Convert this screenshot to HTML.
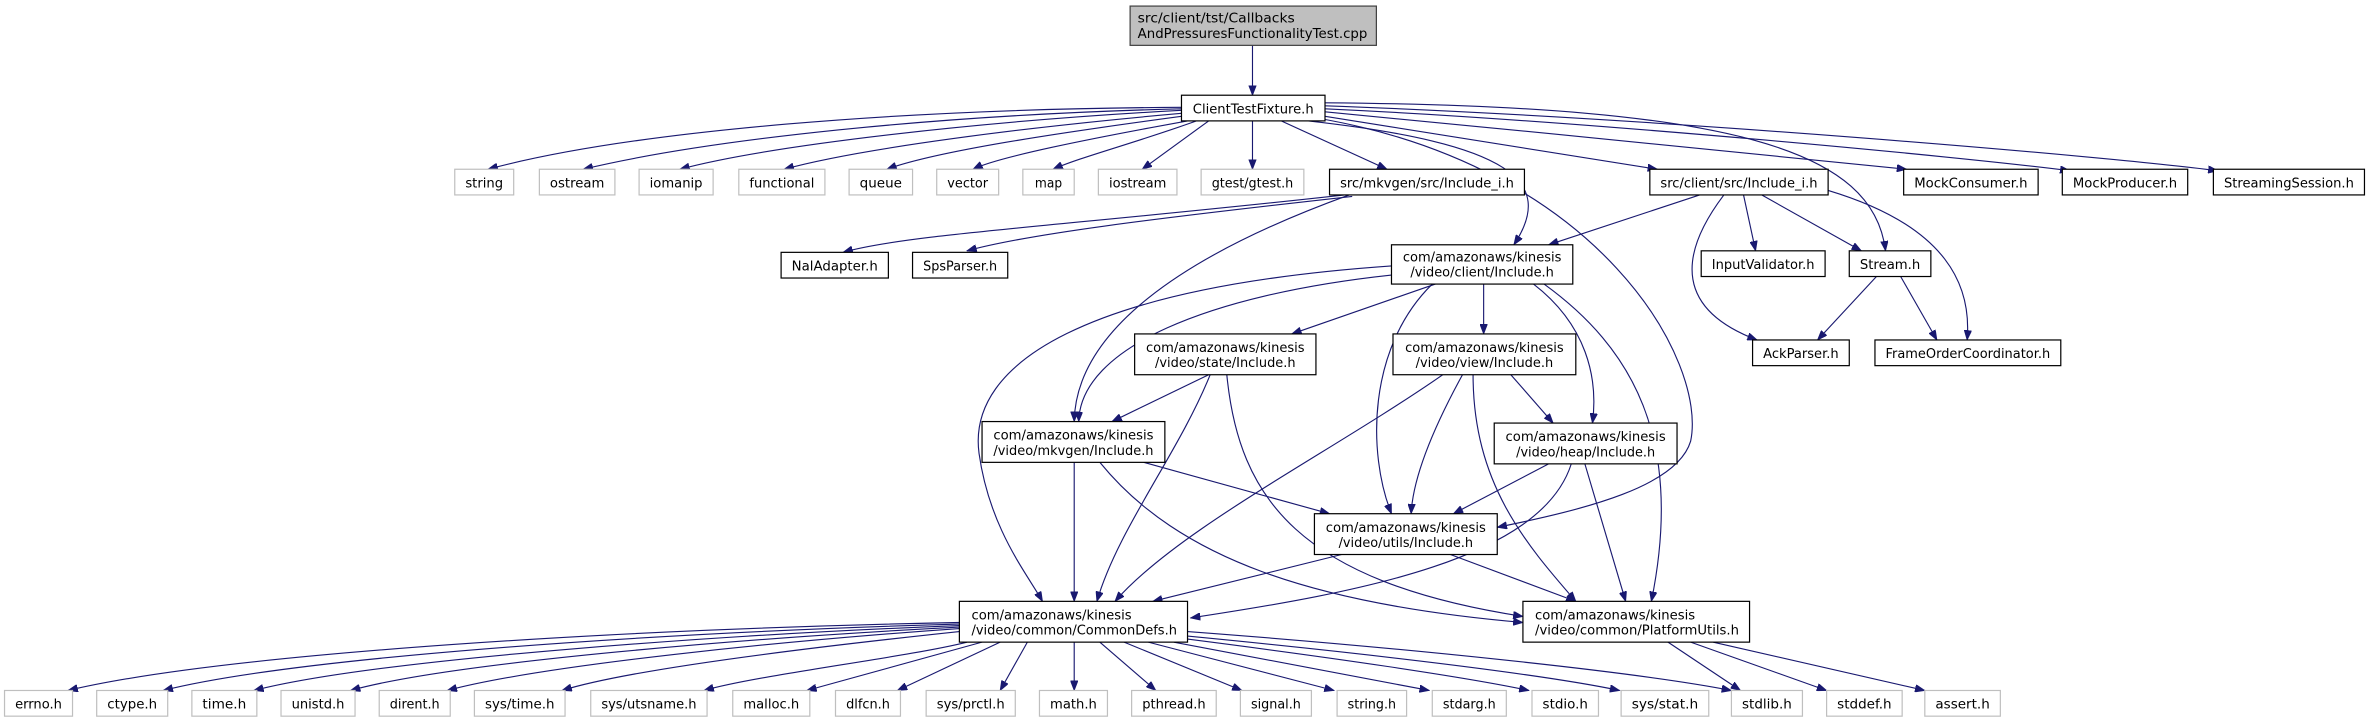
<!DOCTYPE html>
<html><head><meta charset="utf-8"><style>
html,body{margin:0;padding:0;background:#fff;}
svg{display:block;}
text{font-family:"DejaVu Sans","Liberation Sans",sans-serif;font-size:8.6px;fill:#000;}
.b{fill:#fff;stroke:#000;stroke-width:0.8;}
.g{fill:#fff;stroke:#bfbfbf;stroke-width:0.8;}
.e{fill:none;stroke:#191970;stroke-width:0.75;marker-end:url(#a);}
</style></head><body>
<svg width="2369" height="723" viewBox="0 0 1568 478.5" xmlns="http://www.w3.org/2000/svg">
<defs><marker id="a" markerUnits="userSpaceOnUse" markerWidth="7" markerHeight="5" refX="6.5" refY="2.5" orient="auto"><path d="M0,0 L6.5,2.5 L0,5 z" fill="#191970" stroke="#191970" stroke-width="0.5"/></marker></defs>

<g>
<path class="e" d="M829,30 L829,63"/>
<path class="e" d="M782,71 C600,72 420,86 323,112"/>
<path class="e" d="M782,72 C620,76 470,92 386,112"/>
<path class="e" d="M782,73 C650,80 510,96 450,112"/>
<path class="e" d="M782,75 C680,84 570,98 519,112"/>
<path class="e" d="M782,77 C700,88 620,100 587,112"/>
<path class="e" d="M786,80 C720,92 660,104 644,112"/>
<path class="e" d="M792,80 C750,95 715,104 697,112"/>
<path class="e" d="M800,80 L756,112"/>
<path class="e" d="M829,80 L829,112"/>
<path class="e" d="M848,80 L918,112"/>
<path class="e" d="M877,77 L1097,112"/>
<path class="e" d="M877,74 C1000,86 1200,105 1262,112"/>
<path class="e" d="M877,72 C1050,80 1300,104 1370,113"/>
<path class="e" d="M877,70 C1100,78 1400,104 1468,113"/>
<path class="e" d="M877,68 C1150,70 1240,100 1248,166"/>
<path class="e" d="M866,80 C1000,95 1030,120 1002,162"/>
<path class="e" d="M871,78 C1060,110 1130,240 1119,292 C1110,322 1050,337 991,349"/>
<path class="e" d="M890,129 C700,150 600,155 558,167"/>
<path class="e" d="M895,130 C760,145 680,155 640,166"/>
<path class="e" d="M893,129 C780,170 712,220 711,279"/>
<path class="e" d="M1125,129 L1025,162"/>
<path class="e" d="M1154,129 L1162,166"/>
<path class="e" d="M1166,129 L1232,166"/>
<path class="e" d="M1141,129 C1110,170 1110,205 1163,225"/>
<path class="e" d="M1210,126 C1290,150 1305,190 1302,225"/>
<path class="e" d="M1242,183 L1203,225"/>
<path class="e" d="M1258,183 L1282,225"/>
<path class="e" d="M950,188 L855,221"/>
<path class="e" d="M982,188 L982,221"/>
<path class="e" d="M921,182 C800,195 715,230 714,279"/>
<path class="e" d="M921,176 C720,190 640,240 648,300 C655,350 680,380 690,398"/>
<path class="e" d="M948,188 C905,230 905,300 921,340"/>
<path class="e" d="M1015,188 C1050,215 1058,250 1054,280"/>
<path class="e" d="M1022,188 C1080,230 1115,290 1093,398"/>
<path class="e" d="M800,248 L736,279"/>
<path class="e" d="M801,248 C780,300 740,350 726,398"/>
<path class="e" d="M812,248 C820,330 860,385 1008,408"/>
<path class="e" d="M955,248 C880,300 780,350 738,398"/>
<path class="e" d="M968,248 C945,290 935,320 934,340"/>
<path class="e" d="M1000,248 L1028,280"/>
<path class="e" d="M975,248 C975,320 1010,360 1043,398"/>
<path class="e" d="M711,306 L711,398"/>
<path class="e" d="M757,306 L880,340"/>
<path class="e" d="M728,306 C780,370 870,400 1008,412"/>
<path class="e" d="M1025,307 L962,340"/>
<path class="e" d="M1040,307 C1020,370 900,392 788,409"/>
<path class="e" d="M1049,307 L1076,398"/>
<path class="e" d="M888,367 L763,398"/>
<path class="e" d="M960,367 L1043,398"/>
<path class="e" d="M635,412 C420,416 150,432 45,457"/>
<path class="e" d="M635,413 C450,418 200,434 108,457"/>
<path class="e" d="M635,414 C480,420 250,436 168,457"/>
<path class="e" d="M635,415 C500,422 300,438 232,457"/>
<path class="e" d="M635,416 C520,424 360,440 296,457"/>
<path class="e" d="M635,418 C550,427 420,442 372,457"/>
<path class="e" d="M640,425 C600,435 500,447 466,457"/>
<path class="e" d="M650,425 L534,457"/>
<path class="e" d="M662,425 L594,457"/>
<path class="e" d="M680,425 L662,457"/>
<path class="e" d="M711,425 L711,457"/>
<path class="e" d="M728,425 L765,457"/>
<path class="e" d="M744,425 L822,457"/>
<path class="e" d="M760,425 L883,457"/>
<path class="e" d="M777,425 L946,457"/>
<path class="e" d="M786,423 C880,435 970,448 1012,457"/>
<path class="e" d="M786,421 C900,432 1020,446 1072,457"/>
<path class="e" d="M786,418 C920,428 1080,444 1146,457"/>
<path class="e" d="M1104,425 L1152,457"/>
<path class="e" d="M1119,425 L1209,457"/>
<path class="e" d="M1134,425 L1274,457"/>
</g>

<g>
<rect x="748" y="4" width="163" height="26" fill="#bfbfbf" stroke="#404040" stroke-width="0.8"/>
<text x="753" y="15" textLength="104" lengthAdjust="spacingAndGlyphs">src/client/tst/Callbacks</text>
<text x="753" y="25" textLength="152" lengthAdjust="spacingAndGlyphs">AndPressuresFunctionalityTest.cpp</text>

<rect class="b" x="782" y="63" width="95" height="17"/><text x="829.5" y="75" text-anchor="middle" textLength="80" lengthAdjust="spacingAndGlyphs">ClientTestFixture.h</text>

<rect class="g" x="301" y="112" width="39" height="17"/><text x="320.5" y="124" text-anchor="middle" textLength="25" lengthAdjust="spacingAndGlyphs">string</text>
<rect class="g" x="357" y="112" width="50" height="17"/><text x="382" y="124" text-anchor="middle" textLength="36" lengthAdjust="spacingAndGlyphs">ostream</text>
<rect class="g" x="423" y="112" width="49" height="17"/><text x="447.5" y="124" text-anchor="middle" textLength="35" lengthAdjust="spacingAndGlyphs">iomanip</text>
<rect class="g" x="489" y="112" width="57" height="17"/><text x="517.5" y="124" text-anchor="middle" textLength="43" lengthAdjust="spacingAndGlyphs">functional</text>
<rect class="g" x="562" y="112" width="42" height="17"/><text x="583" y="124" text-anchor="middle" textLength="28" lengthAdjust="spacingAndGlyphs">queue</text>
<rect class="g" x="620" y="112" width="41" height="17"/><text x="640.5" y="124" text-anchor="middle" textLength="27" lengthAdjust="spacingAndGlyphs">vector</text>
<rect class="g" x="677" y="112" width="34" height="17"/><text x="694" y="124" text-anchor="middle" textLength="18" lengthAdjust="spacingAndGlyphs">map</text>
<rect class="g" x="727" y="112" width="52" height="17"/><text x="753" y="124" text-anchor="middle" textLength="38" lengthAdjust="spacingAndGlyphs">iostream</text>
<rect class="g" x="795" y="112" width="68" height="17"/><text x="829" y="124" text-anchor="middle" textLength="54" lengthAdjust="spacingAndGlyphs">gtest/gtest.h</text>
<rect class="b" x="880" y="112" width="129" height="17"/><text x="944.5" y="124" text-anchor="middle" textLength="115" lengthAdjust="spacingAndGlyphs">src/mkvgen/src/Include_i.h</text>
<rect class="b" x="1092" y="112" width="118" height="17"/><text x="1151" y="124" text-anchor="middle" textLength="104" lengthAdjust="spacingAndGlyphs">src/client/src/Include_i.h</text>
<rect class="b" x="1260" y="112" width="89" height="17"/><text x="1304.5" y="124" text-anchor="middle" textLength="75" lengthAdjust="spacingAndGlyphs">MockConsumer.h</text>
<rect class="b" x="1365" y="112" width="83" height="17"/><text x="1406.5" y="124" text-anchor="middle" textLength="69" lengthAdjust="spacingAndGlyphs">MockProducer.h</text>
<rect class="b" x="1465" y="112" width="100" height="17"/><text x="1515" y="124" text-anchor="middle" textLength="86" lengthAdjust="spacingAndGlyphs">StreamingSession.h</text>

<rect class="b" x="517" y="167" width="71" height="17"/><text x="552.5" y="179" text-anchor="middle" textLength="57" lengthAdjust="spacingAndGlyphs">NalAdapter.h</text>
<rect class="b" x="604" y="167" width="63" height="17"/><text x="635.5" y="179" text-anchor="middle" textLength="49" lengthAdjust="spacingAndGlyphs">SpsParser.h</text>
<rect class="b" x="1126" y="166" width="82" height="17"/><text x="1167" y="178" text-anchor="middle" textLength="68" lengthAdjust="spacingAndGlyphs">InputValidator.h</text>
<rect class="b" x="1224" y="166" width="54" height="17"/><text x="1251" y="178" text-anchor="middle" textLength="40" lengthAdjust="spacingAndGlyphs">Stream.h</text>
<rect class="b" x="1160" y="225" width="64" height="17"/><text x="1192" y="237" text-anchor="middle" textLength="50" lengthAdjust="spacingAndGlyphs">AckParser.h</text>
<rect class="b" x="1241" y="225" width="123" height="17"/><text x="1302.5" y="237" text-anchor="middle" textLength="109" lengthAdjust="spacingAndGlyphs">FrameOrderCoordinator.h</text>

<rect class="b" x="921" y="162" width="120" height="26"/>
<text x="981" y="173" text-anchor="middle" textLength="105" lengthAdjust="spacingAndGlyphs">com/amazonaws/kinesis</text>
<text x="981" y="183" text-anchor="middle" textLength="95" lengthAdjust="spacingAndGlyphs">/video/client/Include.h</text>

<rect class="b" x="751" y="221" width="120" height="27"/>
<text x="811" y="233" text-anchor="middle" textLength="105" lengthAdjust="spacingAndGlyphs">com/amazonaws/kinesis</text>
<text x="811" y="243" text-anchor="middle" textLength="93" lengthAdjust="spacingAndGlyphs">/video/state/Include.h</text>

<rect class="b" x="922" y="221" width="121" height="27"/>
<text x="982.5" y="233" text-anchor="middle" textLength="105" lengthAdjust="spacingAndGlyphs">com/amazonaws/kinesis</text>
<text x="982.5" y="243" text-anchor="middle" textLength="91" lengthAdjust="spacingAndGlyphs">/video/view/Include.h</text>

<rect class="b" x="650" y="279" width="121" height="27"/>
<text x="710.5" y="291" text-anchor="middle" textLength="106" lengthAdjust="spacingAndGlyphs">com/amazonaws/kinesis</text>
<text x="710.5" y="301" text-anchor="middle" textLength="106" lengthAdjust="spacingAndGlyphs">/video/mkvgen/Include.h</text>

<rect class="b" x="989" y="280" width="121" height="27"/>
<text x="1049.5" y="292" text-anchor="middle" textLength="106" lengthAdjust="spacingAndGlyphs">com/amazonaws/kinesis</text>
<text x="1049.5" y="302" text-anchor="middle" textLength="92" lengthAdjust="spacingAndGlyphs">/video/heap/Include.h</text>

<rect class="b" x="870" y="340" width="121" height="27"/>
<text x="930.5" y="352" text-anchor="middle" textLength="106" lengthAdjust="spacingAndGlyphs">com/amazonaws/kinesis</text>
<text x="930.5" y="362" text-anchor="middle" textLength="89" lengthAdjust="spacingAndGlyphs">/video/utils/Include.h</text>

<rect class="b" x="635" y="398" width="151" height="27"/>
<text x="643" y="410" textLength="106" lengthAdjust="spacingAndGlyphs">com/amazonaws/kinesis</text>
<text x="643" y="420" textLength="136" lengthAdjust="spacingAndGlyphs">/video/common/CommonDefs.h</text>

<rect class="b" x="1008" y="398" width="150" height="27"/>
<text x="1016" y="410" textLength="106" lengthAdjust="spacingAndGlyphs">com/amazonaws/kinesis</text>
<text x="1016" y="420" textLength="135" lengthAdjust="spacingAndGlyphs">/video/common/PlatformUtils.h</text>

<rect class="g" x="3" y="457" width="45" height="17"/><text x="25.5" y="469" text-anchor="middle" textLength="31" lengthAdjust="spacingAndGlyphs">errno.h</text>
<rect class="g" x="64" y="457" width="47" height="17"/><text x="87.5" y="469" text-anchor="middle" textLength="33" lengthAdjust="spacingAndGlyphs">ctype.h</text>
<rect class="g" x="127" y="457" width="43" height="17"/><text x="148.5" y="469" text-anchor="middle" textLength="29" lengthAdjust="spacingAndGlyphs">time.h</text>
<rect class="g" x="186" y="457" width="49" height="17"/><text x="210.5" y="469" text-anchor="middle" textLength="35" lengthAdjust="spacingAndGlyphs">unistd.h</text>
<rect class="g" x="251" y="457" width="47" height="17"/><text x="274.5" y="469" text-anchor="middle" textLength="33" lengthAdjust="spacingAndGlyphs">dirent.h</text>
<rect class="g" x="314" y="457" width="60" height="17"/><text x="344" y="469" text-anchor="middle" textLength="46" lengthAdjust="spacingAndGlyphs">sys/time.h</text>
<rect class="g" x="391" y="457" width="77" height="17"/><text x="429.5" y="469" text-anchor="middle" textLength="63" lengthAdjust="spacingAndGlyphs">sys/utsname.h</text>
<rect class="g" x="485" y="457" width="51" height="17"/><text x="510.5" y="469" text-anchor="middle" textLength="37" lengthAdjust="spacingAndGlyphs">malloc.h</text>
<rect class="g" x="553" y="457" width="43" height="17"/><text x="574.5" y="469" text-anchor="middle" textLength="29" lengthAdjust="spacingAndGlyphs">dlfcn.h</text>
<rect class="g" x="613" y="457" width="59" height="17"/><text x="642.5" y="469" text-anchor="middle" textLength="45" lengthAdjust="spacingAndGlyphs">sys/prctl.h</text>
<rect class="g" x="688" y="457" width="45" height="17"/><text x="710.5" y="469" text-anchor="middle" textLength="31" lengthAdjust="spacingAndGlyphs">math.h</text>
<rect class="g" x="749" y="457" width="56" height="17"/><text x="777" y="469" text-anchor="middle" textLength="42" lengthAdjust="spacingAndGlyphs">pthread.h</text>
<rect class="g" x="821" y="457" width="47" height="17"/><text x="844.5" y="469" text-anchor="middle" textLength="33" lengthAdjust="spacingAndGlyphs">signal.h</text>
<rect class="g" x="885" y="457" width="46" height="17"/><text x="908" y="469" text-anchor="middle" textLength="32" lengthAdjust="spacingAndGlyphs">string.h</text>
<rect class="g" x="948" y="457" width="49" height="17"/><text x="972.5" y="469" text-anchor="middle" textLength="35" lengthAdjust="spacingAndGlyphs">stdarg.h</text>
<rect class="g" x="1014" y="457" width="44" height="17"/><text x="1036" y="469" text-anchor="middle" textLength="30" lengthAdjust="spacingAndGlyphs">stdio.h</text>
<rect class="g" x="1073" y="457" width="58" height="17"/><text x="1102" y="469" text-anchor="middle" textLength="44" lengthAdjust="spacingAndGlyphs">sys/stat.h</text>
<rect class="g" x="1146" y="457" width="47" height="17"/><text x="1169.5" y="469" text-anchor="middle" textLength="33" lengthAdjust="spacingAndGlyphs">stdlib.h</text>
<rect class="g" x="1209" y="457" width="50" height="17"/><text x="1234" y="469" text-anchor="middle" textLength="36" lengthAdjust="spacingAndGlyphs">stddef.h</text>
<rect class="g" x="1274" y="457" width="50" height="17"/><text x="1299" y="469" text-anchor="middle" textLength="36" lengthAdjust="spacingAndGlyphs">assert.h</text>
</g>
</svg>
</body></html>
